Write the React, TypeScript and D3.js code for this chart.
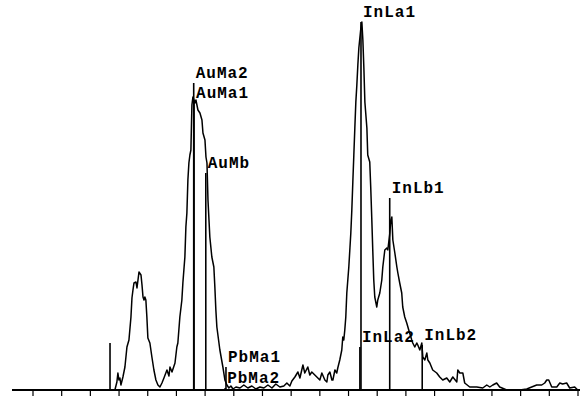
import React from 'react';
import * as d3 from 'd3';

// EDS spectrum, energy in keV, counts
const energy = [
  0.854, 1.571, 1.585, 1.592, 1.599, 1.606, 1.613, 1.627, 1.641, 1.655, 1.669, 1.683, 1.690, 1.697, 1.704,
  1.718, 1.725, 1.739, 1.753, 1.760, 1.767, 1.774, 1.780, 1.787, 1.794, 1.801, 1.815, 1.829, 1.843, 1.857,
  1.871, 1.885, 1.899, 1.913, 1.934, 1.948, 1.955, 1.969, 1.990, 2.003, 2.010, 2.024, 2.038, 2.045, 2.052,
  2.059, 2.066, 2.073, 2.080, 2.087, 2.094, 2.101, 2.108, 2.115, 2.122, 2.129, 2.136, 2.143, 2.150, 2.164,
  2.178, 2.185, 2.199, 2.206, 2.213, 2.220, 2.233, 2.247, 2.261, 2.268, 2.275, 2.282, 2.303, 2.324, 2.338,
  2.352, 2.366, 2.380, 2.394, 2.415, 2.443, 2.470, 2.498, 2.526, 2.554, 2.582, 2.610, 2.638, 2.666, 2.693,
  2.721, 2.749, 2.770, 2.791, 2.805, 2.826, 2.847, 2.861, 2.882, 2.895, 2.916, 2.930, 2.944, 2.965, 2.986,
  3.000, 3.014, 3.035, 3.049, 3.056, 3.070, 3.084, 3.091, 3.105, 3.118, 3.125, 3.139, 3.153, 3.160, 3.167,
  3.174, 3.181, 3.188, 3.202, 3.216, 3.223, 3.230, 3.237, 3.244, 3.251, 3.258, 3.265, 3.272, 3.286, 3.293,
  3.300, 3.307, 3.314, 3.328, 3.334, 3.348, 3.355, 3.362, 3.369, 3.376, 3.383, 3.397, 3.404, 3.418, 3.432,
  3.439, 3.453, 3.467, 3.474, 3.488, 3.495, 3.502, 3.509, 3.523, 3.537, 3.544, 3.557, 3.571, 3.578, 3.592,
  3.606, 3.620, 3.641, 3.648, 3.662, 3.676, 3.683, 3.697, 3.711, 3.718, 3.732, 3.746, 3.753, 3.767, 3.787,
  3.815, 3.836, 3.857, 3.885, 3.906, 3.927, 3.955, 3.962, 3.976, 3.997, 4.010, 4.045, 4.094, 4.136, 4.164,
  4.185, 4.206, 4.233, 4.254, 4.303, 4.394, 4.443, 4.477, 4.512, 4.547, 4.568, 4.582, 4.596, 4.617, 4.652,
  4.673, 4.693, 4.721, 4.742, 4.777, 4.798,
];
const counts = [
  0, 0, 8, 17, 10, 12, 5, 13, 23, 43, 50, 73, 92, 100, 107,
  108, 102, 118, 115, 105, 93, 90, 93, 90, 73, 52, 47, 33, 20, 10,
  5, 3, 7, 12, 20, 14, 23, 18, 27, 43, 47, 73, 90, 107, 120,
  133, 163, 177, 210, 227, 235, 240, 285, 293, 290, 287, 290, 285, 280, 277,
  270, 257, 250, 233, 227, 190, 153, 133, 123, 103, 80, 63, 40, 23, 10,
  5, 2, 4, 1, 3, 2, 5, 2, 4, 1, 3, 2, 5, 2, 6,
  3, 4, 7, 4, 9, 13, 18, 12, 25, 17, 23, 15, 18, 15, 12,
  10, 17, 10, 8, 15, 18, 10, 10, 20, 17, 22, 30, 40, 53, 50,
  60, 73, 97, 123, 157, 180, 208, 235, 262, 288, 305, 325, 342, 362, 368,
  350, 322, 288, 262, 235, 228, 202, 172, 140, 110, 93, 83, 90, 97, 110,
  123, 140, 142, 140, 157, 170, 173, 150, 137, 123, 117, 107, 97, 83, 73,
  67, 60, 50, 47, 43, 47, 45, 40, 47, 33, 30, 37, 30, 27, 20,
  17, 13, 10, 12, 8, 13, 8, 20, 17, 17, 7, 3, 3, 2, 5,
  3, 5, 7, 3, 0, 0, 1, 3, 5, 5, 7, 10, 10, 3, 3,
  7, 6, 7, 2, 3, 0,
];

// peak identification markers
const markerNames = ['', 'AuMa2', 'AuMa1', 'AuMb', 'PbMa1', 'PbMa2', 'InLa1', 'InLa2', 'InLb1', 'InLb2'];
const markerEnergies = [1.537, 2.1205, 2.1229, 2.2047, 2.3455, 2.3397, 3.2869, 3.2792, 3.4872, 3.7138];
const markerHeights = [47, 307, 287, 217, 23, 2, 368, 43, 192, 45];

const ticks = d3.range(1.0, 4.81, 0.2);

const W = 587;
const H = 399;

export default function App() {
  const x = d3.scaleLinear().domain([1.0, 4.8]).range([33, 578]);
  const y = d3.scaleLinear().domain([0, 380]).range([390, 10]);

  const pts = energy.map((e, i) => [e, counts[i]] as [number, number]);
  const line = d3.line<[number, number]>()
    .x((d) => x(d[0]))
    .y((d) => y(d[1]));

  return (
    <svg width={W} height={H} style={{ position: 'absolute', left: 0, top: 0, background: '#fff' }}>
      <path d={line(pts) || ''} fill="none" stroke="#000" strokeWidth={1.5} strokeLinejoin="round" />

      {markerNames.map((name, i) => (
        <line
          key={'m' + i}
          x1={x(markerEnergies[i])}
          x2={x(markerEnergies[i])}
          y1={y(0)}
          y2={y(markerHeights[i])}
          stroke="#000"
          strokeWidth={1.6}
        />
      ))}

      {markerNames.map((name, i) => (
        <text
          key={'t' + i}
          x={x(markerEnergies[i]) + 2}
          y={y(markerHeights[i]) - 5}
          fontFamily="'Liberation Mono', 'DejaVu Sans Mono', monospace"
          fontWeight="bold"
          fontSize={16}
          letterSpacing={1}
          fill="#000"
        >
          {name}
        </text>
      ))}

      {/* energy axis */}
      <line x1={12} x2={580} y1={y(0)} y2={y(0)} stroke="#000" strokeWidth={1.8} />
      {ticks.map((t, i) => (
        <line key={'k' + i} x1={x(t)} x2={x(t)} y1={y(0)} y2={y(0) + 6} stroke="#000" strokeWidth={1.2} />
      ))}
    </svg>
  );
}
